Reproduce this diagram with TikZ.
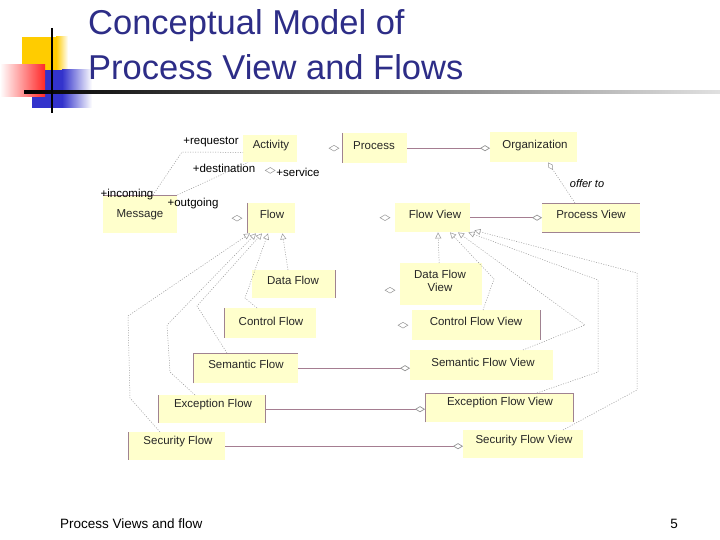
\documentclass[tikz,border=0pt]{standalone}
\usepackage{fontspec}
\setmainfont{Liberation Sans}
\usetikzlibrary{arrows.meta,shapes.geometric,calc}
\definecolor{titlec}{RGB}{45,45,135}
\definecolor{boxc}{RGB}{255,255,204}
\definecolor{edgec}{RGB}{160,130,145}
\definecolor{assoc}{RGB}{165,125,145}
\definecolor{genc}{RGB}{150,150,150}
\definecolor{logoY}{RGB}{255,204,0}
\definecolor{logoB}{RGB}{51,51,204}
\definecolor{logoR}{RGB}{255,40,40}
\begin{document}
\begin{tikzpicture}[x=1pt,y=-1pt,
  box/.style={fill=boxc, draw=none, inner sep=0pt, anchor=north west},
  lbl/.style={font=\fontsize{11.5}{13}\selectfont, text=black!85, inner sep=0pt, align=center},
  role/.style={font=\fontsize{11.5}{13}\selectfont, inner sep=0pt},
  bord/.style={draw=edgec, line width=0.7pt},
  assocline/.style={draw=assoc, line width=0.7pt, -{Diamond[open,color=genc,length=10pt,width=6pt]}},
  dots/.style={draw=genc, line width=0.5pt, dash pattern=on 1pt off 1.5pt},
  gen/.style={dots, -{Triangle[open,length=6pt,width=6pt]}},
  dia/.style={diamond, draw=genc, line width=0.5pt, inner sep=0pt, minimum width=10pt, minimum height=6pt, fill=white},
]
\useasboundingbox (0,0) rectangle (720,540);
\fill[white] (0,0) rectangle (720,540);

% logo
\fill[logoY] (22,37) rectangle (56,72);
\shade[left color=logoY, right color=white] (56,37) rectangle (68,72);
\fill[logoB] (32,70) rectangle (62,108);
\shade[left color=logoB, right color=white] (62,70) rectangle (92,108);
\shade[left color=white, right color=logoR] (0,65) rectangle (45,97);
\shade[left color=black, right color=black!12] (24,90.5) rectangle (720,93.5);
\draw[black, line width=2pt] (52,28) -- (52,113);

% title
\node[anchor=base west, text=titlec, font=\fontsize{34.5}{40}\selectfont, inner sep=0pt] (t1) at (88,35) {Conceptual Model of};
\node[anchor=base west, text=titlec, font=\fontsize{34.5}{40}\selectfont, inner sep=0pt] (t2) at (88,80) {Process View and Flows};

% footer
\node[anchor=base west, font=\fontsize{13.5}{15}\selectfont, inner sep=0pt] (ft) at (60,528) {Process Views and flow};
\node[anchor=base east, font=\fontsize{13.5}{15}\selectfont, inner sep=0pt] (pg) at (678,528) {5};

% boxes
\node[box, minimum width=54pt, minimum height=27pt] (act) at (243,135) {};
\node[box, minimum width=65pt, minimum height=30pt] (pro) at (342,133) {};
\node[box, minimum width=87pt, minimum height=30pt] (org) at (490,132) {};
\node[box, minimum width=74pt, minimum height=38pt] (msg) at (103,195) {};
\node[box, minimum width=48pt, minimum height=30pt] (flw) at (247,203) {};
\node[box, minimum width=75pt, minimum height=29pt] (fv) at (395,203) {};
\node[box, minimum width=98pt, minimum height=29pt] (pv) at (542,203) {};
\node[box, minimum width=83pt, minimum height=28pt] (df) at (252,270) {};
\node[box, minimum width=92pt, minimum height=30pt] (cf) at (224,308) {};
\node[box, minimum width=82pt, minimum height=42pt] (dfv) at (400,263) {};
\node[box, minimum width=128pt, minimum height=30pt] (cfv) at (412,310) {};
\node[box, minimum width=105pt, minimum height=30pt] (sf) at (193,353) {};
\node[box, minimum width=143pt, minimum height=30pt] (sfv) at (410,350) {};
\node[box, minimum width=107pt, minimum height=28pt] (ef) at (158,395) {};
\node[box, minimum width=148pt, minimum height=29pt] (efv) at (425,393) {};
\node[box, minimum width=97pt, minimum height=28pt] (scf) at (128,432) {};
\node[box, minimum width=120pt, minimum height=28pt] (scfv) at (463,430) {};

% box texts
\node[lbl] (act-t) at (271,146) {Activity};
\node[lbl] (pro-t) at (374,146) {Process};
\node[lbl] (org-t) at (535,146) {Organization};
\node[lbl] (msg-t) at (140,215) {Message};
\node[lbl] (flw-t) at (272,214) {Flow};
\node[lbl] (fv-t) at (435,214) {Flow View};
\node[lbl] (pv-t) at (591,214) {Process View};
\node[lbl] (df-t) at (293,280) {Data Flow};
\node[lbl] (cf-t) at (271,321) {Control Flow};
\node[lbl] (dfv-t) at (440,281) {Data Flow\\View};
\node[lbl] (cfv-t) at (476,321) {Control Flow View};
\node[lbl] (sf-t) at (246,364) {Semantic Flow};
\node[lbl] (sfv-t) at (483,362) {Semantic Flow View};
\node[lbl] (ef-t) at (213,405) {Exception Flow};
\node[lbl] (efv-t) at (500,403) {Exception Flow View};
\node[lbl] (scf-t) at (178,442) {Security Flow};
\node[lbl] (scfv-t) at (524,441) {Security Flow View};

% partial borders
\draw[bord] (pro.north west) -- (pro.south west);
\draw[bord] (msg.north west) -- (msg.north east);
\draw[bord] (flw.north west) -- (flw.south west);
\draw[bord] (pv.north west) -- (pv.north east);
\draw[bord] (pv.south west) -- (pv.south east);
\draw[bord] (df.north east) -- (df.south east);
\draw[bord] (cf.north west) -- (cf.south west);
\draw[bord] (cfv.north east) -- (cfv.south east);
\draw[bord] (sf.south west) -- (sf.north west) -- (sf.north east);
\draw[bord] (ef.north west) -- (ef.south west);
\draw[bord] (ef.north east) -- (ef.south east);
\draw[bord] (efv.south west) -- (efv.north west) -- (efv.north east) -- (efv.south east);
\draw[bord] (scf.north west) -- (scf.south west);

% associations
\draw[assocline] (pro.east) -- (pro.east -| org.west);
\draw[assocline] (fv.east) -- (fv.east -| pv.west);
\draw[assocline] (sf.east) -- (sf.east -| sfv.west);
\draw[assocline] (ef.east) -- (ef.east -| efv.west);
\draw[assocline] (scf.east) -- (scf.east -| scfv.west);
\draw[dots, -{Diamond[open,length=9pt,width=5pt]}] ($(pv.north west)+(33,0)$) -- ($(org.south west)+(58,0)$);
\node[role, font=\fontsize{11}{13}\selectfont\itshape] (offer) at (587,184) {offer to};

% message links
\draw[dots] ($(msg.north west)+(50,0)$) -- (182,152) -- ($(act.south west)+(0,-10)$);
\draw[dots] (msg.north east) -- ($(act.south west)+(5,0)$);
\node[role] (r1) at (211,142) {+requestor};
\node[role] (r2) at (224,168) {+destination};
\node[role] (r3) at (127,195) {+incoming};
\node[role] (r4) at (193,204) {+outgoing};
\node[role] (r5) at (298,172) {+service};

% standalone diamonds
\node[dia] (dsv) at ($(act.south)+(0,8)$) {};
\node[dia] (dpro) at ($(pro.west)+(-8,0)$) {};
\node[dia] (dflw) at ($(flw.west)+(-10,0)$) {};
\node[dia] (dfvw) at ($(fv.west)+(-10,0)$) {};
\node[dia] (ddfv) at ($(dfv.west)+(-10,6)$) {};
\node[dia] (dcfv) at ($(cfv.west)+(-9,0)$) {};

% generalizations to Flow
\draw[gen] ($(df.north west)+(36,0)$) -- ($(flw.south east)+(-13,0)$);
\draw[gen] ($(cf.north west)+(33,0)$) -- (245,298) -- ($(flw.south west)+(21,0)$);
\draw[gen] ($(sf.north west)+(34,0)$) -- (197,306) -- ($(flw.south west)+(15,0)$);
\draw[gen] ($(ef.north west)+(37,0)$) -- (170,372) -- (167,325) -- ($(flw.south west)+(9,0)$);
\draw[gen] ($(scf.north west)+(32,0)$) -- (130,398) -- (128,316) -- ($(flw.south west)+(3,0)$);

% generalizations to Flow View
\draw[gen] ($(dfv.north)+(-2,0)$) -- ($(fv.south west)+(43,0)$);
\draw[gen] ($(cfv.north west)+(71,0)$) -- (494,279) -- ($(fv.south west)+(55,0)$);
\draw[gen] ($(sfv.north west)+(113,0)$) -- (585,325) -- ($(fv.south west)+(63,0)$);
\draw[gen] ($(efv.north west)+(112,0)$) -- (598,372) -- (598,280) -- ($(fv.south east)+(-2,0)$);
\draw[gen] ($(scfv.north west)+(100,0)$) -- (637,390) -- (637,273) -- ($(fv.south east)+(4,-2)$);
\end{tikzpicture}
\end{document}
